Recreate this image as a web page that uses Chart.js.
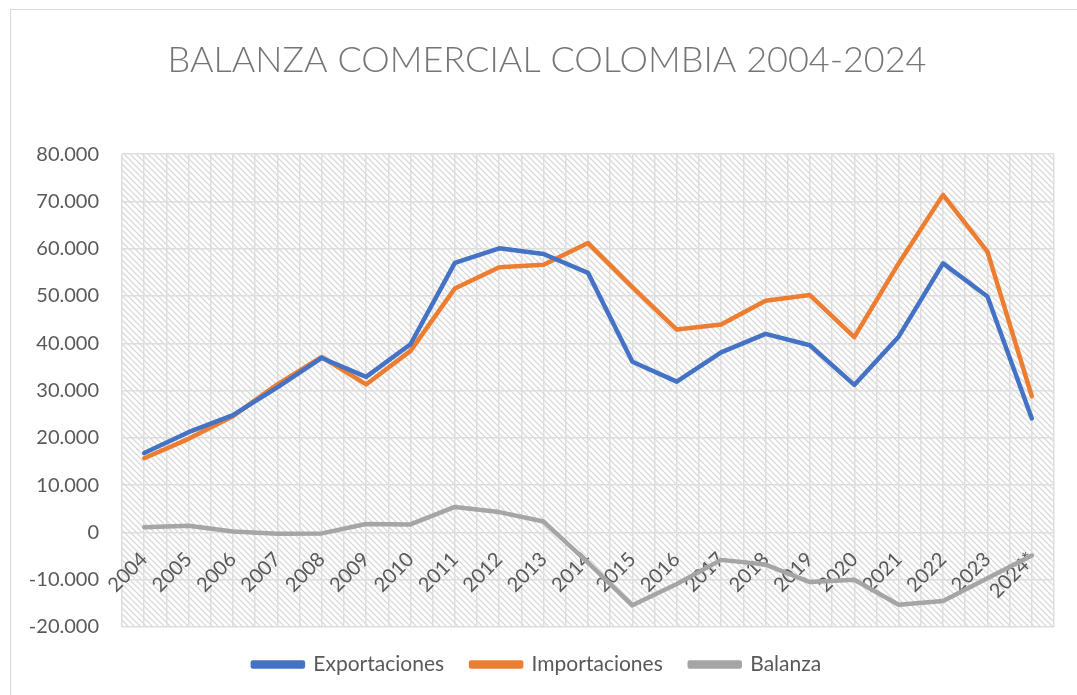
<!DOCTYPE html>
<html>
<head>
<meta charset="utf-8">
<script src="https://cdn.jsdelivr.net/npm/chart.js@4.4.1/dist/chart.umd.min.js"></script>
<style>
    html, body { margin: 0; padding: 0; background: #fff; overflow: hidden; }
    #wrap { position: relative; width: 1077px; height: 695px; overflow: hidden; }
    #frame { position: absolute; left: 10px; top: 9px; width: 1200px; height: 800px; border: 1px solid #d9d9d9; box-sizing: border-box; }
    #chart { position: absolute; left: 0; top: 0; }
</style>
</head>
<body>
<div id="wrap">
    <div id="frame"></div>
    <canvas id="chart" width="1077" height="685"></canvas>
</div>
<script>
// Millones de USD
const years = ['2004', '2005', '2006', '2007', '2008', '2009', '2010', '2011', '2012', '2013', '2014',
    '2015', '2016', '2017', '2018', '2019', '2020', '2021', '2022', '2023', '2024*'];
const exportaciones = [16800, 21200, 24800, 30700, 36900, 32900, 39800, 57000, 60100, 58900, 54900,
    36100, 31900, 38100, 42000, 39600, 31200, 41400, 56900, 49900, 24100];
const importaciones = [15700, 19800, 24600, 31300, 37100, 31300, 38400, 51600, 56100, 56600, 61200,
    51900, 42900, 44000, 49000, 50200, 41300, 56900, 71400, 59400, 28800];
const balanza = [1100, 1400, 200, -300, -200, 1800, 1700, 5400, 4300, 2300, -6400,
    -15400, -10900, -5800, -6800, -10500, -10000, -15300, -14500, -9700, -4900];
const yTicks = [-20000, -10000, 0, 10000, 20000, 30000, 40000, 50000, 60000, 70000, 80000];

const FONT = 'Lato, "Open Sans", sans-serif';
const TEXT = '#595959';
const GRID = '#dedede';

function formatMiles(v) {
    const s = Math.abs(v).toString().replace(/\B(?=(\d{3})+(?!\d))/g, '.');
    return (v < 0 ? '-' : '') + s;
}

// diagonal hatch behind the plot area
function makeHatch() {
    const c = document.createElement('canvas');
    c.width = 6;
    c.height = 6;
    const g = c.getContext('2d');
    g.strokeStyle = '#d9d9d9';
    g.lineWidth = 1.3;
    g.beginPath();
    g.moveTo(-1, -1); g.lineTo(7, 7);
    g.moveTo(-1, 5); g.lineTo(1, 7);
    g.moveTo(5, -1); g.lineTo(7, 1);
    g.stroke();
    return c;
}

const hatchPlugin = {
    id: 'hatch',
    afterLayout(chart) {
        // the title sits a bit right of the canvas centre in the original
        if (chart.titleBlock) chart.titleBlock.left += 20;
    },
    beforeDraw(chart) {
        const { ctx, chartArea } = chart;
        ctx.save();
        ctx.fillStyle = ctx.createPattern(makeHatch(), 'repeat');
        ctx.fillRect(chartArea.left, chartArea.top, chartArea.right - chartArea.left, chartArea.bottom - chartArea.top);
        ctx.restore();
    }
};

function lineDataset(label, data, color) {
    return {
        label: label,
        data: data,
        borderColor: color,
        backgroundColor: color,
        borderWidth: 4.5,
        pointRadius: 0,
        pointHoverRadius: 0,
        tension: 0,
        borderJoinStyle: 'round',
        borderCapStyle: 'round'
    };
}

new Chart(document.getElementById('chart'), {
    type: 'line',
    data: {
        labels: years,
        datasets: [
            lineDataset('Exportaciones', exportaciones, '#4472C4'),
            lineDataset('Importaciones', importaciones, '#ED7D31'),
            lineDataset('Balanza', balanza, '#A5A5A5')
        ]
    },
    plugins: [hatchPlugin],
    options: {
        responsive: false,
        animation: false,
        layout: { padding: { left: 20, right: 23, top: 0, bottom: 0 } },
        plugins: {
            title: {
                display: true,
                text: 'BALANZA COMERCIAL COLOMBIA 2004-2024',
                color: '#757575',
                font: { family: FONT, size: 36, weight: '300' },
                padding: { top: 39, bottom: 72 }
            },
            legend: {
                position: 'bottom',
                labels: {
                    color: TEXT,
                    font: { family: FONT, size: 21 },
                    boxWidth: 50,
                    boxHeight: 4,
                    padding: 27
                }
            },
            tooltip: { enabled: false }
        },
        scales: {
            x: {
                type: 'category',
                position: { y: 0 },
                offset: true,
                grid: { color: GRID, lineWidth: 1.5, offset: true, drawTicks: false },
                border: { display: false },
                ticks: {
                    color: TEXT,
                    font: { family: FONT, size: 20 },
                    minRotation: 45,
                    maxRotation: 45,
                    autoSkip: false,
                    padding: 15
                }
            },
            x2: {
                type: 'category',
                labels: years,
                position: { y: 0 },
                offset: true,
                grid: { color: GRID, lineWidth: 1.5, offset: false, drawTicks: false },
                border: { display: false },
                ticks: { display: false }
            },
            y: {
                min: -20000,
                max: 80000,
                afterBuildTicks(axis) {
                    axis.ticks = yTicks.map(v => ({ value: v }));
                },
                afterFit(axis) {
                    axis.width = 102;
                },
                grid: { color: GRID, lineWidth: 1.5, drawTicks: false },
                border: { display: false },
                ticks: {
                    color: TEXT,
                    font: { family: FONT, size: 20 },
                    padding: 23,
                    callback: v => formatMiles(v)
                }
            }
        }
    }
});
</script>
</body>
</html>
